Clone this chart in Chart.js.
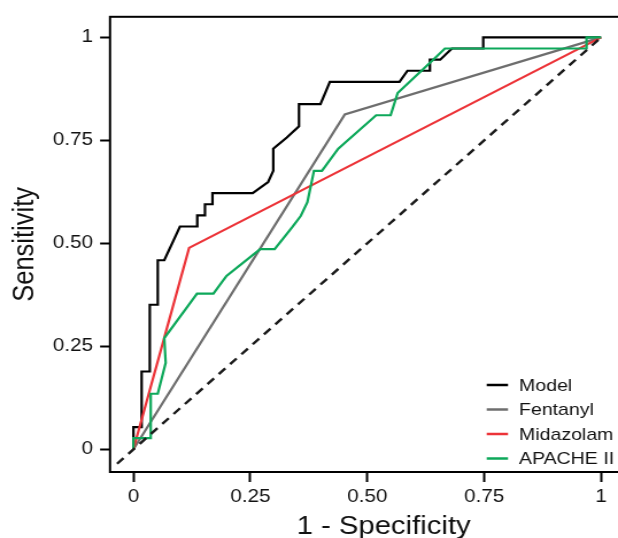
<!DOCTYPE html>
<html><head><meta charset="utf-8">
<script src="https://cdn.jsdelivr.net/npm/chart.js@4.4.0/dist/chart.umd.min.js"></script>
<style>
html,body{margin:0;padding:0;overflow:hidden;background:#fff;width:618px;height:538px;}
#wrap{position:absolute;left:0;top:0;width:590px;height:538px;transform:scaleX(1.1487);transform-origin:0 0;}
canvas{display:block;}
</style></head><body>
<div id="wrap"><canvas id="c" width="590" height="538"></canvas></div>
<script>
// ---- data ----
const seriesNames  = ['Model', 'Fentanyl', 'Midazolam', 'APACHE II'];
const seriesColors = ['#000000', '#6e6e6e', '#ec3338', '#0da85a'];

const modelFpr = [0, 0, 0.0175, 0.0175, 0.035, 0.035, 0.052, 0.052, 0.066, 0.0995,
                  0.1365, 0.1365, 0.153, 0.153, 0.169, 0.169, 0.255, 0.288, 0.299, 0.299,
                  0.328, 0.354, 0.354, 0.400, 0.420, 0.569, 0.586, 0.634, 0.634, 0.656,
                  0.681, 0.748, 0.748, 1];
const modelTpr = [0, 0.054, 0.054, 0.189, 0.189, 0.351, 0.351, 0.459, 0.459, 0.541,
                  0.541, 0.568, 0.568, 0.595, 0.595, 0.622, 0.622, 0.649, 0.676, 0.730,
                  0.757, 0.784, 0.838, 0.838, 0.892, 0.892, 0.919, 0.919, 0.946, 0.946,
                  0.973, 0.973, 1, 1];

const fentanylFpr = [0, 0.452, 1];
const fentanylTpr = [0, 0.813, 1];

const midazolamFpr = [0, 0.119, 1];
const midazolamTpr = [0, 0.489, 1];

const apacheFpr = [0, 0, 0.037, 0.037, 0.052, 0.069, 0.066, 0.136, 0.171, 0.199,
                   0.271, 0.302, 0.34, 0.358, 0.372, 0.386, 0.403, 0.438, 0.519, 0.55,
                   0.565, 0.641, 0.666, 0.969, 0.969, 1];
const apacheTpr = [0, 0.027, 0.027, 0.135, 0.135, 0.21, 0.27, 0.378, 0.378, 0.421,
                   0.486, 0.486, 0.54, 0.567, 0.6, 0.676, 0.676, 0.73, 0.811, 0.811,
                   0.865, 0.946, 0.973, 0.973, 1, 1];

const refFpr = [-0.035, 1];
const refTpr = [-0.035, 1];

const tickValues = [0, 0.25, 0.5, 0.75, 1];
const tickLabels = ['0', '0.25', '0.50', '0.75', '1'];
const xTitle = '1 - Specificity';
const yTitle = 'Sensitivity';

// ---- build ----
const SX = 1.1487;
const CW = 590;
const FONT = '"Liberation Sans", Arial, Helvetica, sans-serif';
const pts = (xs, ys) => xs.map((x, i) => ({x: x, y: ys[i]}));
const fprs = [modelFpr, fentanylFpr, midazolamFpr, apacheFpr];
const tprs = [modelTpr, fentanylTpr, midazolamTpr, apacheTpr];

const datasets = seriesNames.map((n, i) => ({
  label: n,
  data: pts(fprs[i], tprs[i]),
  borderColor: seriesColors[i],
  borderWidth: 2.2,
  showLine: true,
  pointRadius: 0,
  tension: 0,
  fill: false,
  order: 4 - i
}));
datasets.push({
  label: 'reference',
  data: pts(refFpr, refTpr),
  borderColor: '#1a1a1a',
  borderWidth: 2.4,
  borderDash: [8, 6],
  showLine: true,
  pointRadius: 0,
  tension: 0,
  fill: false,
  order: 0
});

const framePlugin = {
  id: 'frame',
  afterDatasetsDraw(chart) {
    const {ctx, chartArea: a} = chart;
    ctx.save();
    ctx.strokeStyle = '#000';
    ctx.lineWidth = 2;
    ctx.strokeRect(a.left, a.top, a.right - a.left, a.bottom - a.top);
    ctx.restore();
  }
};

const legendPlugin = {
  id: 'customLegend',
  afterDraw(chart) {
    const ctx = chart.ctx;
    ctx.save();
    ctx.font = '17px ' + FONT;
    ctx.textBaseline = 'middle';
    ctx.textAlign = 'left';
    seriesNames.forEach((n, i) => {
      const y = 385 + i * 24.5;
      ctx.strokeStyle = seriesColors[i];
      ctx.lineWidth = 2.5;
      ctx.beginPath();
      ctx.moveTo(486.7 / SX, y);
      ctx.lineTo(508 / SX, y);
      ctx.stroke();
      ctx.fillStyle = '#111';
      ctx.fillText(n, 519 / SX, y + 1);
    });
    ctx.restore();
  }
};

const axisCommon = {
  type: 'linear',
  afterBuildTicks: s => { s.ticks = tickValues.map(v => ({value: v})); },
  ticks: {
    callback: (v, i) => tickLabels[i],
    font: {family: FONT, size: 18},
    color: '#111',
    autoSkip: false,
    maxRotation: 0,
    minRotation: 0
  },
  border: {display: false}
};

new Chart(document.getElementById('c'), {
  type: 'scatter',
  data: {datasets: datasets},
  plugins: [framePlugin, legendPlugin],
  options: {
    responsive: false,
    animation: false,
    devicePixelRatio: 1,
    layout: {padding: {top: 13, right: CW - 572.1, left: 0, bottom: 0}},
    plugins: {legend: {display: false}, tooltip: {enabled: false}},
    scales: {
      x: Object.assign({}, axisCommon, {
        min: -0.05, max: 1.12,
        ticks: Object.assign({}, axisCommon.ticks, {padding: 4}),
        grid: {display: true, drawOnChartArea: false, drawTicks: true, tickLength: 10, tickWidth: 2, tickColor: '#000'},
        title: {display: true, text: xTitle, color: '#111', font: {family: FONT, size: 25.5, lineHeight: 0.9}, padding: {top: 0, bottom: 0}},
        afterFit: s => { s.height = 66; }
      }),
      y: Object.assign({}, axisCommon, {
        min: -0.055, max: 1.05,
        ticks: Object.assign({}, axisCommon.ticks, {padding: 6}),
        grid: {display: true, drawOnChartArea: false, drawTicks: true, tickLength: 8.7, tickWidth: 2, tickColor: '#000'},
        title: {display: true, text: yTitle, color: '#111', font: {family: FONT, size: 25.5, lineHeight: 0.9}, padding: {top: 10.5, bottom: 0}},
        afterFit: s => { s.width = 95.8; }
      })
    }
  }
});
</script>
</body></html>
